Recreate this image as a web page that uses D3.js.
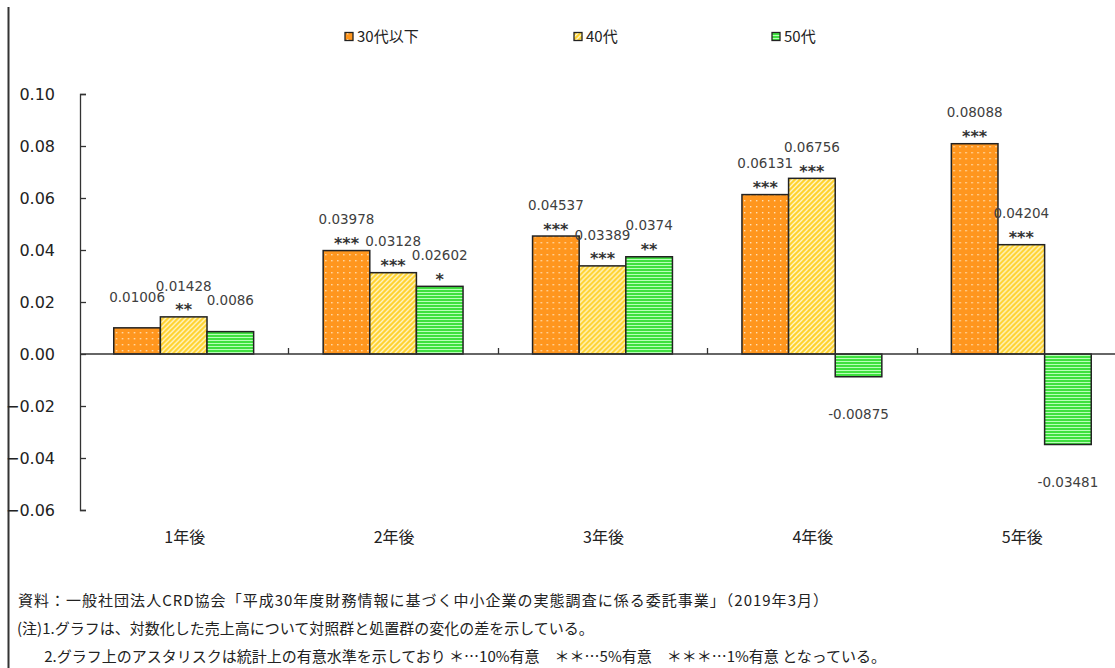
<!DOCTYPE html>
<html><head><meta charset="utf-8">
<script src="https://cdn.jsdelivr.net/npm/d3@7"></script>
<style>
body{margin:0;background:#fff;}
svg{display:block;}
</style></head>
<body>
<svg id="chart" width="1115" height="668"></svg>
<script>
const categories = ["1年後","2年後","3年後","4年後","5年後"];
const seriesNames = ["30代以下","40代","50代"];
const values30 = [0.01006, 0.03978, 0.04537, 0.06131, 0.08088];
const values40 = [0.01428, 0.03128, 0.03389, 0.06756, 0.04204];
const values50 = [0.0086, 0.02602, 0.0374, -0.00875, -0.03481];
const stars30 = ["", "***", "***", "***", "***"];
const stars40 = ["**", "***", "***", "***", "***"];
const stars50 = ["", "*", "**", "", ""];
const yTicks = [-0.06,-0.04,-0.02,0,0.02,0.04,0.06,0.08,0.10];
const notes = [
  "資料：一般社団法人CRD協会「平成30年度財務情報に基づく中小企業の実態調査に係る委託事業」（2019年3月）",
  "(注)1.グラフは、対数化した売上高について対照群と処置群の変化の差を示している。",
  "2.グラフ上のアスタリスクは統計上の有意水準を示しており ＊…10%有意　＊＊…5%有意　＊＊＊…1%有意 となっている。"
];

const seriesVals = [values30, values40, values50];
const seriesStars = [stars30, stars40, stars50];
const fills = ["url(#pOrange)","url(#pYellow)","url(#pGreen)"];

const svg = d3.select("#chart");
const NUM = "'DejaVu Sans', Verdana, 'Noto Sans CJK JP', sans-serif";
const JP = "'Noto Sans CJK JP', 'DejaVu Sans', sans-serif";
const txt = "#404040";

// patterns
const defs = svg.append("defs");
const po = defs.append("pattern").attr("id","pOrange").attr("patternUnits","userSpaceOnUse").attr("width",6).attr("height",6);
po.append("rect").attr("width",6).attr("height",6).attr("fill","#FF961E");
po.append("rect").attr("x",2).attr("y",2).attr("width",1.4).attr("height",1.4).attr("fill","#FFE2B8");
const py = defs.append("pattern").attr("id","pYellow").attr("patternUnits","userSpaceOnUse").attr("width",5).attr("height",5);
py.append("rect").attr("width",5).attr("height",5).attr("fill","#FFD22E");
py.append("path").attr("d","M-1,6 L6,-1 M-1,1 L1,-1 M4,6 L6,4").attr("stroke","#FFF6CC").attr("stroke-width",1.3);
const pg = defs.append("pattern").attr("id","pGreen").attr("patternUnits","userSpaceOnUse").attr("width",6).attr("height",3);
pg.append("rect").attr("width",6).attr("height",3).attr("fill","#3FE03F");
pg.append("rect").attr("y",1).attr("width",6).attr("height",1).attr("fill","#B8FFB8");

// left border
svg.append("line").attr("x1",8.5).attr("x2",8.5).attr("y1",7).attr("y2",668)
  .attr("stroke","#333").attr("stroke-width",2);

const x0 = d3.scaleBand().domain(categories).range([79, 79 + 5*209.4]).paddingInner(0.332).paddingOuter(0.166);
const x1 = d3.scaleBand().domain(seriesNames).range([0, x0.bandwidth()]);
const y = d3.scaleLinear().domain([-0.06, 0.10]).range([510, 94]);

// y axis
const yAxis = svg.append("g").attr("transform","translate(80,0)")
  .call(d3.axisRight(y).tickValues(yTicks).tickSize(6).tickFormat(d3.format(".2f")));
yAxis.select(".domain").attr("stroke","#333").attr("stroke-width",1.3).attr("d","M6,94.5H0.5V510.5H6");
yAxis.selectAll(".tick line").attr("stroke","#333").attr("stroke-width",1.3);
yAxis.selectAll(".tick text").attr("x",-25).attr("text-anchor","end")
  .style("font-family",NUM).style("font-size","16px").attr("fill","#222");

// bars
const groups = svg.append("g").selectAll("g").data(categories).join("g")
  .attr("transform", d => `translate(${x0(d)},0)`);
seriesNames.forEach((s, si) => {
  groups.append("rect")
    .attr("x", x1(s))
    .attr("y", (d,i) => y(Math.max(0, seriesVals[si][i])))
    .attr("width", x1.bandwidth())
    .attr("height", (d,i) => Math.abs(y(seriesVals[si][i]) - y(0)))
    .attr("fill", fills[si]).attr("stroke","#222").attr("stroke-width",1.5);
});

// zero axis line
svg.append("line").attr("x1",80).attr("x2",1115).attr("y1",y(0)).attr("y2",y(0))
  .attr("stroke","#333").attr("stroke-width",1.5);
// category boundary ticks
categories.slice(1).forEach(c => {
  const xb = Math.round(x0(c) - (x0.step()-x0.bandwidth())/2) + 0.5;
  svg.append("line").attr("x1",xb).attr("x2",xb).attr("y1",y(0)).attr("y2",y(0)-6)
    .attr("stroke","#333").attr("stroke-width",1.3);
});

// category labels
svg.append("g").selectAll("text").data(categories).join("text")
  .attr("x", d => x0(d) + x0.bandwidth()/2 + 1).attr("y", 537).attr("dy","0.35em")
  .attr("text-anchor","middle").style("font-family",JP).style("font-size","16px").attr("fill","#222")
  .text(d => d);

// value labels
seriesNames.forEach((s, si) => {
  categories.forEach((c, i) => {
    const v = seriesVals[si][i];
    const cx = x0(c) + x1(s) + x1.bandwidth()/2;
    if (v >= 0) {
      svg.append("text").attr("x",cx).attr("y",y(v)-31).attr("dy","0.35em").attr("text-anchor","middle")
        .style("font-family",NUM).style("font-size","13.5px").attr("fill",txt).text(String(v));
      if (seriesStars[si][i]) {
        svg.append("text").attr("x",cx).attr("y",y(v)-1.5).attr("text-anchor","middle")
          .style("font-family",NUM).style("font-size","16px").style("font-weight","bold").attr("fill","#333")
          .text(seriesStars[si][i]);
      }
    } else {
      svg.append("text").attr("x",cx).attr("y",y(v)+38).attr("dy","0.35em").attr("text-anchor","middle")
        .style("font-family",NUM).style("font-size","13.5px").attr("fill",txt).text(String(v));
    }
  });
});

// legend
const legendX = [345, 574, 772];
seriesNames.forEach((s, si) => {
  const g = svg.append("g").attr("transform",`translate(${legendX[si]},37)`);
  g.append("rect").attr("x",0).attr("y",-4.5).attr("width",8).attr("height",8)
    .attr("fill",fills[si]).attr("stroke","#222").attr("stroke-width",1.3);
  g.append("text").attr("x",12).attr("y",0).attr("dy","0.35em")
    .style("font-family",JP).style("font-size","15px").attr("fill","#222").text(s);
});

// notes
svg.append("text").attr("x",18).attr("y",601).attr("dy","0.35em")
  .attr("textLength",810).attr("lengthAdjust","spacing")
  .style("font-family",JP).style("font-size","15px").attr("fill","#222").text(notes[0]);
svg.append("text").attr("x",17).attr("y",629).attr("dy","0.35em")
  .style("font-family",JP).style("font-size","15px").attr("fill","#222").text(notes[1]);
const pre = svg.append("text").style("font-family",JP).style("font-size","15px").text("(注)");
const w = pre.node().getComputedTextLength(); pre.remove();
svg.append("text").attr("x",19 + w).attr("y",657).attr("dy","0.35em")
  .style("font-family",JP).style("font-size","15px").attr("fill","#222").text(notes[2]);
</script>
</body></html>
